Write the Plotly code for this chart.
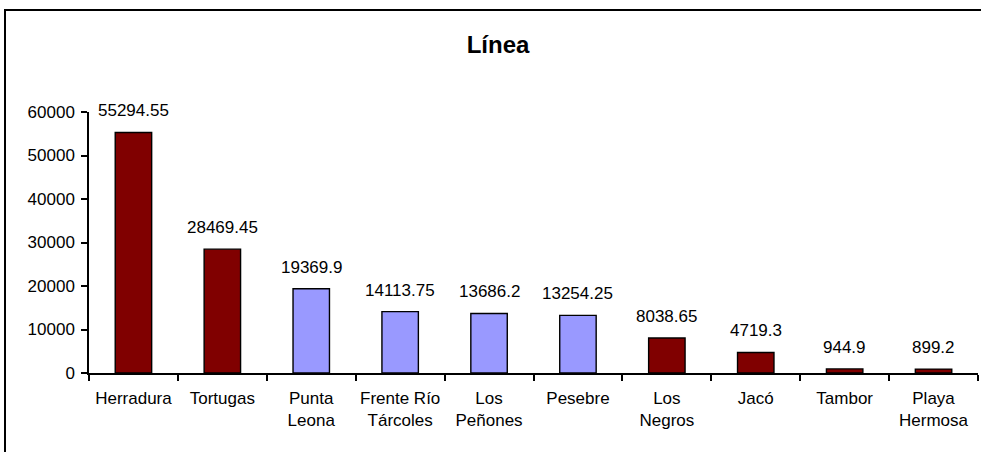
import plotly.graph_objects as go

# data
sites = ['Herradura', 'Tortugas', 'Punta<br>Leona', 'Frente Río<br>Tárcoles', 'Los<br>Peñones',
         'Pesebre', 'Los<br>Negros', 'Jacó', 'Tambor', 'Playa<br>Hermosa']
values = [55294.55, 28469.45, 19369.9, 14113.75, 13686.2, 13254.25, 8038.65, 4719.3, 944.9, 899.2]
labels = ['55294.55', '28469.45', '19369.9', '14113.75', '13686.2', '13254.25', '8038.65', '4719.3', '944.9', '899.2']
bar_colors = ['#800000', '#800000', '#9999FF', '#9999FF', '#9999FF', '#9999FF',
              '#800000', '#800000', '#800000', '#800000']
y_ticks = [0, 10000, 20000, 30000, 40000, 50000, 60000]

W, H = 981, 452
L, R, T, B = 89, 3, 112, 79
pw, ph = W - L - R, H - T - B
FONT = 'Liberation Sans, Arial'

fig = go.Figure()
fig.add_trace(go.Bar(
    x=sites, y=values, width=0.41,
    marker=dict(color=bar_colors, line=dict(color='black', width=1.4)),
))

# value labels above the bars
for s, v, t in zip(sites, values, labels):
    fig.add_annotation(x=s, y=v, text=t, showarrow=False, yanchor='bottom', yshift=10,
                       font=dict(family=FONT, size=17, color='black'))

fig.update_layout(
    width=W, height=H,
    margin=dict(l=L, r=R, t=T, b=B, autoexpand=False),
    paper_bgcolor='white', plot_bgcolor='white',
    showlegend=False,
    font=dict(family=FONT, size=17, color='black'),
    title=dict(text='<b>Línea</b>', x=(498 - L) / pw, xref='paper', xanchor='center',
               y=(H - 45) / H, yanchor='middle', font=dict(size=24)),
    xaxis=dict(showline=True, linecolor='black', linewidth=1.5, ticks='outside',
               tickson='boundaries', ticklen=6, tickcolor='black', tickwidth=1.5,
               tickangle=0, ticklabelstandoff=9, tickfont=dict(size=17),
               showgrid=False, automargin=False),
    yaxis=dict(range=[0, 60000], tickvals=y_ticks, tickformat='d', showline=True,
               linecolor='black', linewidth=1.5, ticks='outside', ticklen=6,
               tickcolor='black', tickwidth=1.5, ticklabelstandoff=3, tickfont=dict(size=17),
               showgrid=False, zeroline=False, automargin=False),
)

# outer chart border (left and top edges visible in the reference)
fig.add_shape(type='rect', xref='paper', yref='paper',
              x0=(5 - L) / pw, x1=(W + 20 - L) / pw,
              y0=-(B + 20) / ph, y1=(H - B - 10) / ph,
              line=dict(color='black', width=2), layer='below')

fig.write_html('out.html', config={'displayModeBar': False},
               post_script="document.body.style.margin='0';")
